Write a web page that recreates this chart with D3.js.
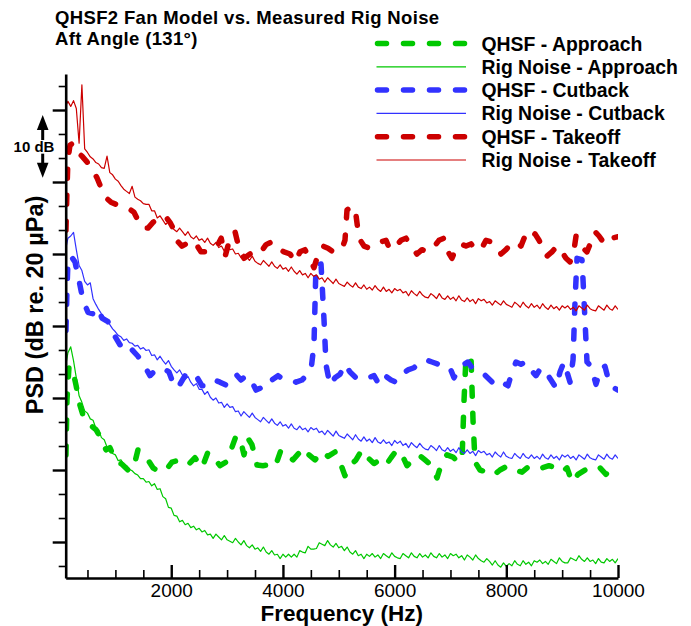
<!DOCTYPE html>
<html>
<head>
<meta charset="utf-8">
<script src="https://cdn.jsdelivr.net/npm/d3@7"></script>
<style>
  body { margin: 0; background: #fff; }
  text { font-family: "Liberation Sans", Arial, Helvetica, sans-serif; fill: #000; }
</style>
</head>
<body>
<svg id="chart" width="691" height="626"></svg>
<script>

/*
		CHART DATA
		frequency in Hz, level in dB (axis carries no dB numbers, only ticks)
*/

var seriesNames = ["QHSF - Approach", "Rig Noise - Approach",
                   "QHSF - Cutback", "Rig Noise - Cutback",
                   "QHSF - Takeoff", "Rig Noise - Takeoff"];

var xTickValues = [2000, 4000, 6000, 8000, 10000];
var xMinorTicks = [500, 1000, 1500, 2500, 3000, 3500, 4500, 5000, 5500, 6500, 7000, 7500, 8500, 9000, 9500];
var yTickValues = [20, 30, 40, 50, 60, 70, 80];
var yMinorTicks = [16.67, 23.33, 26.67, 33.33, 36.67, 43.33, 46.67, 53.33, 56.67, 63.33, 66.67, 73.33, 76.67, 83.33];

// QHSF fan model spectra [Hz, dB]
var qhsfApproach = [[115,32.1],[133,39.7],[168,44.2],[222,44.4],[294,41.8],[365,39.0],[437,37.2],[544,36.3],[652,35.6],[759,34.2],
  [831,32.8],[903,33.1],[992,31.4],[1118,30.8],[1225,30.0],[1315,30.0],[1404,32.8],[1476,32.1],[1583,31.4],[1673,30.3],
  [1799,29.7],[1906,30.0],[2013,31.1],[2156,31.4],[2300,30.7],[2425,31.7],[2550,30.3],[2658,32.5],[2766,31.7],[2873,30.6],
  [2980,31.1],[3070,32.8],[3159,34.7],[3231,34.4],[3303,32.1],[3374,34.4],[3446,33.5],[3536,30.7],[3643,30.6],[3733,30.7],
  [3858,30.4],[3966,32.8],[4073,32.1],[4180,31.4],[4270,32.2],[4377,33.1],[4467,32.1],[4574,31.4],[4700,32.6],[4807,31.9],
  [4932,32.5],[5022,31.1],[5111,29.2],[5201,30.6],[5308,31.4],[5416,32.8],[5523,31.7],[5631,30.9],[5738,31.4],[5845,30.7],
  [5935,31.7],[6042,32.8],[6132,32.1],[6221,30.6],[6329,31.4],[6436,32.1],[6544,31.4],[6651,30.7],[6759,28.9],[6848,31.1],
  [6938,32.1],[7045,31.8],[7135,31.1],[7207,31.4],[7243,39.7],[7278,45.7],[7368,45.6],[7404,36.9],[7440,31.1],[7529,30.0],
  [7655,29.7],[7762,29.2],[7887,30.0],[8030,30.6],[8156,30.0],[8281,29.7],[8388,30.4],[8514,30.0],[8639,30.3],[8764,30.6],
  [8890,30.3],[8997,29.7],[9087,30.3],[9177,28.3],[9284,29.4],[9409,30.0],[9534,29.7],[9678,30.3],[9785,29.4],[9892,30.3],[10000,29.9]];

var qhsfCutback = [[115,49.4],[133,55.0],[150,58.9],[204,59.7],[276,58.9],[347,56.4],[419,53.6],[509,51.9],[598,51.7],[688,52.5],
  [759,51.1],[867,50.6],[974,48.8],[1082,47.4],[1189,47.8],[1297,46.7],[1404,45.8],[1511,44.6],[1619,43.1],[1726,43.9],
  [1852,44.2],[1959,43.6],[2067,41.4],[2156,41.9],[2246,43.1],[2335,43.6],[2443,43.1],[2550,41.7],[2658,41.7],[2766,42.5],
  [2873,42.2],[2980,41.8],[3070,42.8],[3159,43.3],[3249,42.5],[3339,43.1],[3428,42.5],[3518,41.1],[3607,41.4],[3697,42.5],
  [3804,42.5],[3912,43.1],[4019,42.5],[4127,42.5],[4234,42.2],[4341,42.5],[4431,43.2],[4503,43.9],[4556,47.4],[4592,58.5],
  [4682,58.6],[4736,50.8],[4772,44.6],[4843,41.8],[4932,42.8],[5022,43.3],[5111,44.7],[5201,43.6],[5308,42.8],[5416,43.1],
  [5523,42.8],[5631,43.1],[5720,41.9],[5828,43.1],[5935,42.5],[6024,42.2],[6132,43.3],[6239,43.9],[6347,44.2],[6454,45.0],
  [6561,45.3],[6669,45.0],[6776,44.7],[6884,44.7],[6991,44.2],[7063,42.8],[7135,43.9],[7224,44.6],[7314,45.0],[7386,44.2],
  [7493,43.6],[7601,43.3],[7708,42.5],[7815,41.7],[7923,42.2],[8030,41.7],[8102,43.6],[8173,45.0],[8263,44.7],[8352,45.0],
  [8442,43.9],[8531,43.1],[8621,44.2],[8710,43.6],[8800,42.5],[8890,41.4],[8961,43.6],[9033,45.0],[9087,43.6],[9141,42.2],
  [9195,45.3],[9231,53.6],[9266,59.4],[9356,59.2],[9409,50.8],[9445,45.0],[9517,44.4],[9606,41.9],[9696,44.2],[9767,44.4],
  [9839,42.2],[9928,41.4],[10000,41.1]];

var qhsfTakeoff = [[115,63.3],[133,68.9],[150,73.1],[186,75.1],[240,75.4],[312,74.2],[401,73.6],[491,72.8],[580,71.7],[670,70.6],
  [759,68.9],[831,67.8],[921,67.2],[1010,66.9],[1118,66.7],[1225,66.4],[1332,65.8],[1422,64.4],[1494,63.6],[1583,63.6],
  [1673,64.4],[1780,65.0],[1888,65.3],[1977,64.4],[2067,63.1],[2120,61.7],[2192,61.1],[2264,61.4],[2353,61.9],[2443,61.4],
  [2532,60.3],[2622,60.3],[2730,60.8],[2822,61.1],[2894,62.2],[2966,59.7],[3052,62.2],[3142,63.1],[3213,60.8],[3303,59.4],
  [3410,60.0],[3518,60.6],[3607,60.3],[3697,61.3],[3804,61.7],[3912,60.8],[4019,60.3],[4127,60.0],[4216,58.9],[4306,60.3],
  [4395,60.6],[4485,59.2],[4556,58.1],[4628,59.9],[4718,61.1],[4807,60.8],[4897,60.3],[4986,60.3],[5058,60.8],[5111,61.9],
  [5147,66.1],[5237,66.7],[5308,65.4],[5362,62.2],[5452,61.1],[5559,60.8],[5667,61.3],[5756,61.7],[5846,61.9],[5917,60.6],
  [6024,61.1],[6114,61.9],[6203,62.2],[6293,61.1],[6400,60.0],[6490,60.6],[6597,60.3],[6687,60.8],[6794,61.9],[6884,62.2],
  [6956,60.3],[7027,59.4],[7099,60.8],[7188,61.4],[7278,61.1],[7368,61.4],[7457,60.6],[7547,60.6],[7636,61.9],[7726,61.7],
  [7815,61.1],[7905,60.0],[7994,60.6],[8084,61.4],[8173,61.7],[8263,61.1],[8335,62.5],[8424,61.9],[8514,62.8],[8586,61.9],
  [8657,60.8],[8729,59.7],[8818,60.3],[8908,61.1],[8997,60.3],[9069,59.4],[9141,58.9],[9213,60.6],[9249,62.5],[9302,61.7],
  [9374,60.8],[9445,60.3],[9517,61.7],[9588,63.1],[9660,62.5],[9732,61.7],[9803,62.5],[9892,62.2],[10000,62.4]];

// measured rig noise, 50 Hz bins from 100 Hz to 10 kHz
var rigFreq = d3.range(100, 10001, 50);

var rigApproach = [
  44.0, 46.3, 47.1, 45.2, 42.8, 40.3, 39.4, 38.2, 37.9, 37.1,
  36.9, 35.8, 35.6, 34.5, 34.2, 33.2, 33.3, 32.3, 32.1, 31.3,
  31.4, 30.8, 30.6, 30.1, 29.9, 29.5, 29.3, 28.8, 28.8, 28.3,
  28.4, 27.8, 28.1, 27.3, 27.4, 26.3, 26.0, 24.8, 24.7, 23.7,
  23.6, 22.8, 23.0, 22.4, 22.6, 22.0, 22.2, 21.7, 21.9, 21.4,
  21.6, 21.0, 21.1, 20.5, 21.1, 20.7, 20.3, 20.9, 20.3, 20.1,
  19.9, 20.5, 20.0, 19.6, 20.2, 19.5, 19.2, 19.6, 19.0, 19.2,
  18.7, 19.3, 18.6, 18.3, 18.8, 18.2, 18.3, 17.7, 18.3, 17.9,
  18.3, 17.9, 18.3, 17.9, 18.8, 18.6, 18.5, 19.4, 19.0, 19.0,
  19.1, 19.9, 19.7, 19.5, 20.2, 19.6, 19.3, 19.8, 19.2, 19.4,
  18.8, 19.3, 18.6, 18.3, 18.8, 18.1, 18.3, 17.7, 18.3, 18.0,
  18.4, 17.9, 18.2, 17.7, 18.4, 18.1, 17.8, 18.5, 18.0, 17.8,
  17.7, 18.4, 18.1, 17.8, 18.5, 18.0, 17.8, 18.4, 17.9, 18.2,
  17.8, 18.5, 18.0, 17.8, 18.4, 17.9, 18.2, 17.7, 18.4, 18.1,
  18.3, 17.8, 18.1, 17.5, 18.2, 17.9, 17.5, 18.2, 17.7, 17.4,
  17.2, 17.7, 17.3, 16.8, 17.4, 16.8, 16.5, 17.1, 16.6, 17.0,
  16.7, 17.4, 16.9, 16.7, 17.4, 16.9, 17.2, 16.7, 17.4, 17.2,
  17.5, 17.0, 17.3, 16.9, 17.6, 17.3, 17.0, 17.8, 17.3, 17.1,
  17.1, 17.8, 17.6, 17.4, 18.1, 17.6, 17.3, 17.8, 17.3, 17.5,
  17.0, 17.7, 17.2, 17.1, 17.7, 17.3, 17.6, 17.1, 17.7];

var rigCutback = [
  60.3, 62.2, 62.5, 63.0, 60.6, 58.4, 57.7, 56.2, 55.7, 56.0,
  53.8, 53.0, 52.3, 51.7, 51.2, 50.6, 50.2, 49.6, 49.2, 48.7,
  48.5, 48.0, 48.2, 47.7, 47.6, 47.2, 47.3, 46.8, 47.0, 46.6,
  46.7, 45.9, 46.0, 45.3, 45.8, 45.2, 44.7, 45.2, 44.4, 43.9,
  43.5, 43.9, 43.2, 42.6, 43.0, 42.2, 41.7, 42.0, 41.2, 41.2,
  40.5, 40.9, 40.1, 39.7, 40.0, 39.3, 39.4, 38.7, 39.2, 38.7,
  38.8, 38.1, 38.2, 37.5, 38.1, 37.7, 37.3, 37.9, 37.3, 37.0,
  36.7, 37.3, 36.9, 36.5, 37.1, 36.5, 36.2, 36.7, 36.1, 36.3,
  35.8, 36.4, 35.8, 35.6, 36.1, 35.6, 35.8, 35.3, 35.9, 35.6,
  35.8, 35.2, 35.4, 34.9, 35.5, 35.1, 34.7, 35.4, 34.8, 34.6,
  34.4, 35.0, 34.6, 34.2, 34.9, 34.3, 34.0, 34.6, 34.0, 34.3,
  33.8, 34.5, 33.9, 33.7, 34.2, 33.7, 33.9, 33.4, 34.1, 33.7,
  34.0, 33.4, 33.7, 33.1, 33.8, 33.4, 33.1, 33.7, 33.2, 32.9,
  32.8, 33.4, 33.1, 32.7, 33.4, 32.8, 32.6, 33.1, 32.6, 32.9,
  32.4, 33.1, 32.5, 32.3, 32.8, 32.3, 32.6, 32.0, 32.7, 32.4,
  32.6, 32.1, 32.3, 31.8, 32.5, 32.1, 31.8, 32.5, 31.9, 31.7,
  31.6, 32.3, 31.9, 31.6, 32.3, 31.8, 31.6, 32.1, 31.6, 31.9,
  31.5, 32.2, 31.7, 31.5, 32.1, 31.6, 31.9, 31.4, 32.1, 31.8,
  32.1, 31.6, 31.9, 31.4, 32.1, 31.8, 31.5, 32.2, 31.7, 31.5,
  31.4, 32.1, 31.8, 31.5, 32.2, 31.7, 31.5, 32.1, 31.6];

var rigTakeoff = [
  80.4, 81.2, 80.5, 81.3, 80.2, 75.4, 83.5, 74.6, 74.1, 73.5,
  73.2, 72.7, 72.5, 72.0, 71.9, 73.6, 71.3, 71.0, 70.4, 70.1,
  69.5, 69.0, 68.7, 68.4, 69.4, 67.9, 67.6, 67.4, 67.0, 66.9,
  66.9, 66.0, 66.0, 65.0, 65.3, 64.7, 64.1, 64.5, 63.8, 63.4,
  63.1, 63.6, 63.1, 62.6, 63.1, 62.4, 62.1, 62.5, 61.9, 62.1,
  61.6, 62.2, 61.5, 61.2, 61.6, 60.9, 61.1, 60.4, 61.0, 60.6,
  60.7, 60.0, 60.1, 59.5, 60.0, 59.6, 59.1, 59.7, 59.0, 58.7,
  58.5, 59.1, 58.7, 58.3, 58.9, 58.3, 58.0, 58.5, 57.9, 58.1,
  57.6, 58.2, 57.6, 57.2, 57.7, 57.1, 57.3, 56.7, 57.3, 56.9,
  57.1, 56.5, 56.7, 56.1, 56.7, 56.3, 55.9, 56.5, 55.9, 55.7,
  55.5, 56.1, 55.7, 55.4, 56.0, 55.4, 55.2, 55.7, 55.1, 55.4,
  55.0, 55.6, 55.1, 54.8, 55.4, 54.8, 55.1, 54.6, 55.2, 54.9,
  55.1, 54.6, 54.8, 54.2, 54.9, 54.5, 54.2, 54.8, 54.3, 54.0,
  53.9, 54.5, 54.2, 53.8, 54.5, 53.9, 53.7, 54.2, 53.7, 54.0,
  53.5, 54.2, 53.6, 53.4, 53.9, 53.4, 53.7, 53.1, 53.8, 53.5,
  53.7, 53.2, 53.4, 52.9, 53.5, 53.2, 52.9, 53.5, 53.0, 52.8,
  52.6, 53.3, 53.0, 52.6, 53.3, 52.8, 52.5, 53.1, 52.6, 52.9,
  52.4, 53.1, 52.6, 52.3, 52.9, 52.4, 52.7, 52.2, 52.8, 52.5,
  52.8, 52.3, 52.6, 52.1, 52.8, 52.5, 52.2, 52.9, 52.4, 52.2,
  52.1, 52.8, 52.5, 52.2, 52.9, 52.4, 52.2, 52.8, 52.3];

// the "10 dB" scale marker, in axis units
var scaleBar = [79.3, 70.6];


/*
		SCALES AND SVG
*/
var svg = d3.select("#chart");

var x = d3.scaleLinear()
    .domain([110, 10000])
    .range([65.7, 618]);

var y = d3.scaleLinear()
    .domain([15, 85])
    .range([578, 74]);

var green = "#00c800", blue = "#3232ff", red = "#cc0000";

var series = [
  {name: seriesNames[0], color: green, dashed: true,  points: qhsfApproach},
  {name: seriesNames[1], color: green, dashed: false, points: rigFreq.map(function(f, i) { return [f, rigApproach[i]]; })},
  {name: seriesNames[2], color: blue,  dashed: true,  points: qhsfCutback},
  {name: seriesNames[3], color: blue,  dashed: false, points: rigFreq.map(function(f, i) { return [f, rigCutback[i]]; })},
  {name: seriesNames[4], color: red,   dashed: true,  points: qhsfTakeoff},
  {name: seriesNames[5], color: red,   dashed: false, points: rigFreq.map(function(f, i) { return [f, rigTakeoff[i]]; })}
];

function styleLine(sel, s) {
  sel.attr("fill", "none")
     .attr("stroke", s.color)
     .attr("stroke-width", s.dashed ? 5.5 : 1.2)
     .attr("stroke-dasharray", s.dashed ? "9,17" : null)
     .attr("stroke-linecap", s.dashed ? "round" : "butt")
     .attr("stroke-linejoin", "round");
}


/*
		LINES
*/
svg.append("clipPath").attr("id", "plotClip")
  .append("rect")
    .attr("x", x.range()[0])
    .attr("y", y.range()[1])
    .attr("width", x.range()[1] - x.range()[0])
    .attr("height", y.range()[0] - y.range()[1]);

var line = d3.line()
    .x(function(d) { return x(d[0]); })
    .y(function(d) { return y(d[1]); });

var plot = svg.append("g").attr("clip-path", "url(#plotClip)");

series.forEach(function(s) {
  plot.append("path")
      .attr("d", line(s.points))
      .call(styleLine, s);
});


/*
		AXES
*/
var xMinor = svg.append("g")
    .attr("transform", "translate(0," + y.range()[0] + ")")
    .call(d3.axisBottom(x).tickValues(xMinorTicks).tickSize(-8).tickFormat(""));
xMinor.select(".domain").remove();
xMinor.selectAll("line").attr("stroke-width", 1.6);

var xAxis = svg.append("g")
    .attr("transform", "translate(0," + y.range()[0] + ")")
    .call(d3.axisBottom(x).tickValues(xTickValues).tickSize(-13).tickSizeOuter(0)
            .tickPadding(5.5).tickFormat(d3.format("d")));
xAxis.select(".domain").attr("stroke-width", 2.6);
xAxis.selectAll("line").attr("stroke-width", 2.4);
xAxis.selectAll("text")
    .attr("font-size", "19px")
    .attr("font-family", "Liberation Sans, Arial, sans-serif");

var yMinor = svg.append("g")
    .attr("transform", "translate(" + x.range()[0] + ",0)")
    .call(d3.axisLeft(y).tickValues(yMinorTicks).tickSize(7).tickFormat(""));
yMinor.select(".domain").remove();
yMinor.selectAll("line").attr("stroke-width", 1.6);

var yAxis = svg.append("g")
    .attr("transform", "translate(" + x.range()[0] + ",0)")
    .call(d3.axisLeft(y).tickValues(yTickValues).tickSize(13).tickSizeOuter(0).tickFormat(""));
yAxis.select(".domain").attr("stroke-width", 2.6);
yAxis.selectAll("line").attr("stroke-width", 2.4);

svg.append("text")
    .attr("x", (x.range()[0] + x.range()[1]) / 2)
    .attr("y", 621)
    .attr("text-anchor", "middle")
    .attr("font-size", "22.5px")
    .attr("font-weight", "bold")
    .text("Frequency (Hz)");

svg.append("text")
    .attr("transform", "translate(43,305) rotate(-90)")
    .attr("text-anchor", "middle")
    .attr("font-size", "23.5px")
    .attr("font-weight", "bold")
    .text("PSD (dB re. 20 \u00b5Pa)");


/*
		10 dB MARKER
*/
var barX = 42.7, head = 15, halfW = 5.8;
var barTop = y(scaleBar[0]), barBot = y(scaleBar[1]);
var marker = svg.append("g").attr("fill", "#000");
marker.append("path")
    .attr("d", "M" + barX + "," + barTop + "L" + (barX + halfW) + "," + (barTop + head) +
               "L" + (barX - halfW) + "," + (barTop + head) + "Z");
marker.append("rect").attr("x", barX - 1.5).attr("y", barTop + head - 1).attr("width", 3).attr("height", 11);
marker.append("path")
    .attr("d", "M" + barX + "," + barBot + "L" + (barX + halfW) + "," + (barBot - head) +
               "L" + (barX - halfW) + "," + (barBot - head) + "Z");
marker.append("rect").attr("x", barX - 1.5).attr("y", barBot - head - 9).attr("width", 3).attr("height", 10);
svg.append("text")
    .attr("x", 34)
    .attr("y", 151.5)
    .attr("text-anchor", "middle")
    .attr("font-size", "15px")
    .attr("font-weight", "bold")
    .text("10 dB");


/*
		TITLE AND LEGEND
*/
svg.append("text").attr("x", 55).attr("y", 23.8)
    .attr("font-size", "18.5px").attr("font-weight", "bold")
    .attr("letter-spacing", "0.35px")
    .text("QHSF2 Fan Model vs. Measured Rig Noise");
svg.append("text").attr("x", 55).attr("y", 44.5)
    .attr("font-size", "18.5px").attr("font-weight", "bold")
    .attr("letter-spacing", "0.35px")
    .text("Aft Angle (131\u00b0)");

var legend = svg.append("g");
series.forEach(function(s, i) {
  var base = 50.5 + i * 23.3;
  legend.append("line")
      .attr("x1", s.dashed ? 377.5 : 376.5)
      .attr("x2", 466)
      .attr("y1", base - 7)
      .attr("y2", base - 7)
      .call(styleLine, s);
  legend.append("text")
      .attr("x", 481.5)
      .attr("y", base)
      .attr("font-size", "19.4px")
      .attr("font-weight", "bold")
      .text(s.name);
});

</script>
</body>
</html>
